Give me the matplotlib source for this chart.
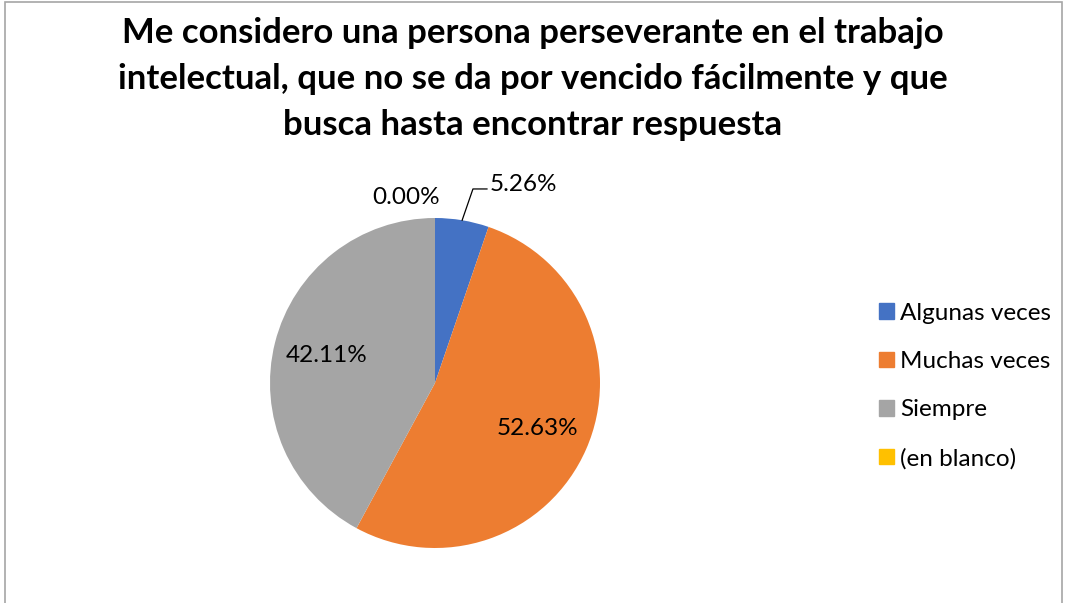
import numpy as np
import matplotlib
matplotlib.use("Agg")
import matplotlib.pyplot as plt
from matplotlib.patches import Rectangle

plt.rcParams['font.family'] = ['Lato', 'DejaVu Sans']

#data
categories = ["Algunas veces", "Muchas veces", "Siempre", "(en blanco)"]
values = [5.26, 52.63, 42.11, 0.00]
colors = ["#4472C4", "#ED7D31", "#A5A5A5", "#FFC000"]
title = ("Me considero una persona perseverante en el trabajo\n"
         "intelectual, que no se da por vencido fácilmente y que\n"
         "busca hasta encontrar respuesta")

fig = plt.figure(figsize=(10.65, 6.03), dpi=100)
# chart border
fig.patches.append(Rectangle((5/1065, -0.1), 1057/1065, 1.1 - 2/603, transform=fig.transFigure,
                             fill=False, edgecolor="#A6A6A6", linewidth=1.2))

ax = fig.add_axes([270/1065, 55/603, 330/1065, 330/603])
wedges, texts = ax.pie(values, colors=colors, startangle=90, counterclock=False,
                       wedgeprops=dict(linewidth=0))
ax.set_xlim(-1, 1)
ax.set_ylim(-1, 1)
ax.set_aspect("equal")
ax.axis("off")

# data labels
total = sum(values)
start = 90.0
for i, v in enumerate(values):
    ang = start - v / total * 360 / 2
    start -= v / total * 360
    txt = "{:.2f}%".format(v)
    a = np.deg2rad(ang)
    if v > 20:
        ax.text(0.68 * np.cos(a), 0.68 * np.sin(a), txt, ha="center", va="center",
                fontsize=17.5, color="#000000")
    elif v > 0:
        ex, ey = np.cos(a), np.sin(a)
        ax.plot([ex, 0.23, 0.315], [ey, 1.176, 1.176], color="black", lw=0.9, clip_on=False)
        ax.text(0.33, 1.205, txt, ha="left", va="center", fontsize=17.5, clip_on=False)
    else:
        ax.text(-0.176, 1.127, txt, ha="center", va="center", fontsize=17.5, clip_on=False)

fig.text(0.5, 1 - 79/603, title, ha="center", va="center", fontsize=25,
         fontweight="bold", linespacing=1.52, color="#000000")

handles = [Rectangle((0, 0), 1, 1, color=c) for c in colors]
fig.legend(handles, categories, loc="center left", bbox_to_anchor=(857/1065, 1 - 386/603),
           frameon=False, fontsize=17.5, handlelength=0.62, handleheight=0.62,
           handletextpad=0.25, labelspacing=1.12)

fig.savefig("out.png", dpi=100)
